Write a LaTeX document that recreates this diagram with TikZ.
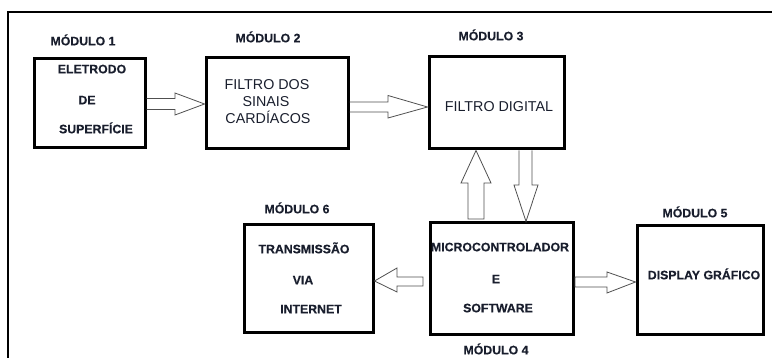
\documentclass[tikz,border=0pt]{standalone}
\usepackage{fontspec}
\setmainfont{Liberation Sans}[BoldFont={Liberation Sans Bold},BoldFeatures={FakeBold=0.4}]
\usetikzlibrary{calc}
\definecolor{txt}{RGB}{25,30,45}
\definecolor{arr}{RGB}{80,80,80}
\begin{document}
\begin{tikzpicture}[x=1pt,y=-1pt,
  box/.style={draw=black,line width=3pt,inner sep=0pt},
  lbl/.style={anchor=base,font=\bfseries\fontsize{12.3}{14}\selectfont,text=txt,inner sep=0pt},
  reg/.style={anchor=base,font=\fontsize{14.3}{17}\selectfont,text=txt,inner sep=0pt},
  blockarrow/.style={draw=arr,line width=0.8pt,line join=miter},
  frame/.style={draw=black,line width=2pt}]
\useasboundingbox (0,0) rectangle (772,358);
% outer frame (cropped)
\coordinate (fr1) at (772,12);
\coordinate (fr2) at (8,12);
\coordinate (fr3) at (8,358);
\draw[frame] (fr1) -- (fr2) -- (fr3);

% boxes
\node[box,minimum width=111pt,minimum height=89pt] (b1) at (89.5,103.5) {};
\node[box,minimum width=142pt,minimum height=91pt] (b2) at (277,103.5) {};
\node[box,minimum width=135pt,minimum height=92pt] (b3) at (496.5,103) {};
\node[box,minimum width=129pt,minimum height=108pt] (b6) at (308.5,279) {};
\node[box,minimum width=143pt,minimum height=112pt] (b4) at (501.5,279) {};
\node[box,minimum width=126pt,minimum height=109pt] (b5) at (700,280.5) {};

% module labels
\node[lbl] (m1) at (83,45.3) {MÓDULO 1};
\node[lbl] (m2) at (268,42.3) {MÓDULO 2};
\node[lbl] (m3) at (491,40.3) {MÓDULO 3};
\node[lbl] (m6) at (297,213.3) {MÓDULO 6};
\node[lbl] (m5) at (695,217.3) {MÓDULO 5};
\node[lbl] (m4) at (496,354.3) {MÓDULO 4};

% box texts
\node[lbl] (t1a) at (92,73.3) {ELETRODO};
\node[lbl] (t1b) at (87,104.3) {DE};
\node[lbl] (t1c) at (96,133.3) {SUPERFÍCIE};

\node[reg] (t2a) at (267,89.1) {FILTRO DOS};
\node[reg] (t2b) at (266,106.1) {SINAIS};
\node[reg] (t2c) at (268,123.1) {CARDÍACOS};

\node[reg] (t3) at (499,111.1) {FILTRO DIGITAL};

\node[lbl] (t6a) at (304,253.3) {TRANSMISSÃO};
\node[lbl] (t6b) at (303,284.3) {VIA};
\node[lbl] (t6c) at (311,313.3) {INTERNET};

\node[lbl] (t4a) at (500,251.3) {MICROCONTROLADOR};
\node[lbl] (t4b) at (496,283.3) {E};
\node[lbl] (t4c) at (498,312.3) {SOFTWARE};

\node[lbl] (t5) at (704,279.3) {DISPLAY GRÁFICO};

% block arrows
% 1 -> 2
\draw[blockarrow] (b1.east |- 0,98.5) -- (175,98.5) -- (175,93) -- (b2.west |- 0,104)
  -- (175,115) -- (175,109.5) -- (b1.east |- 0,109.5);
% 2 -> 3
\draw[blockarrow] (b2.east |- 0,102) -- (388,102) -- (388,95.5) -- (b3.west |- 0,107)
  -- (388,118) -- (388,112) -- (b2.east |- 0,112);
% 4 -> 3 (up)
\draw[blockarrow] (b3.south -| 476,0) -- (491,183) -- (484,183) -- (484,219)
  -- (468,219) -- (468,183) -- (461,183) -- cycle;
% 3 -> 4 (down)
\draw[blockarrow] (b3.south -| 519,0) -- (519,185) -- (514,185) -- (b4.north -| 526,0)
  -- (538,185) -- (532,185) -- (b3.south -| 532,0);
% 4 -> 6 (left)
\draw[blockarrow] (423,277) -- (397,277) -- (397,268) -- (b6.east |- 0,281)
  -- (397,292) -- (397,286) -- (423,286) -- cycle;
% 4 -> 5 (right)
\draw[blockarrow] (575,277) -- (607,277) -- (607,272) -- (b5.west |- 0,282)
  -- (607,293) -- (607,287) -- (575,287) -- cycle;
\end{tikzpicture}
\end{document}
